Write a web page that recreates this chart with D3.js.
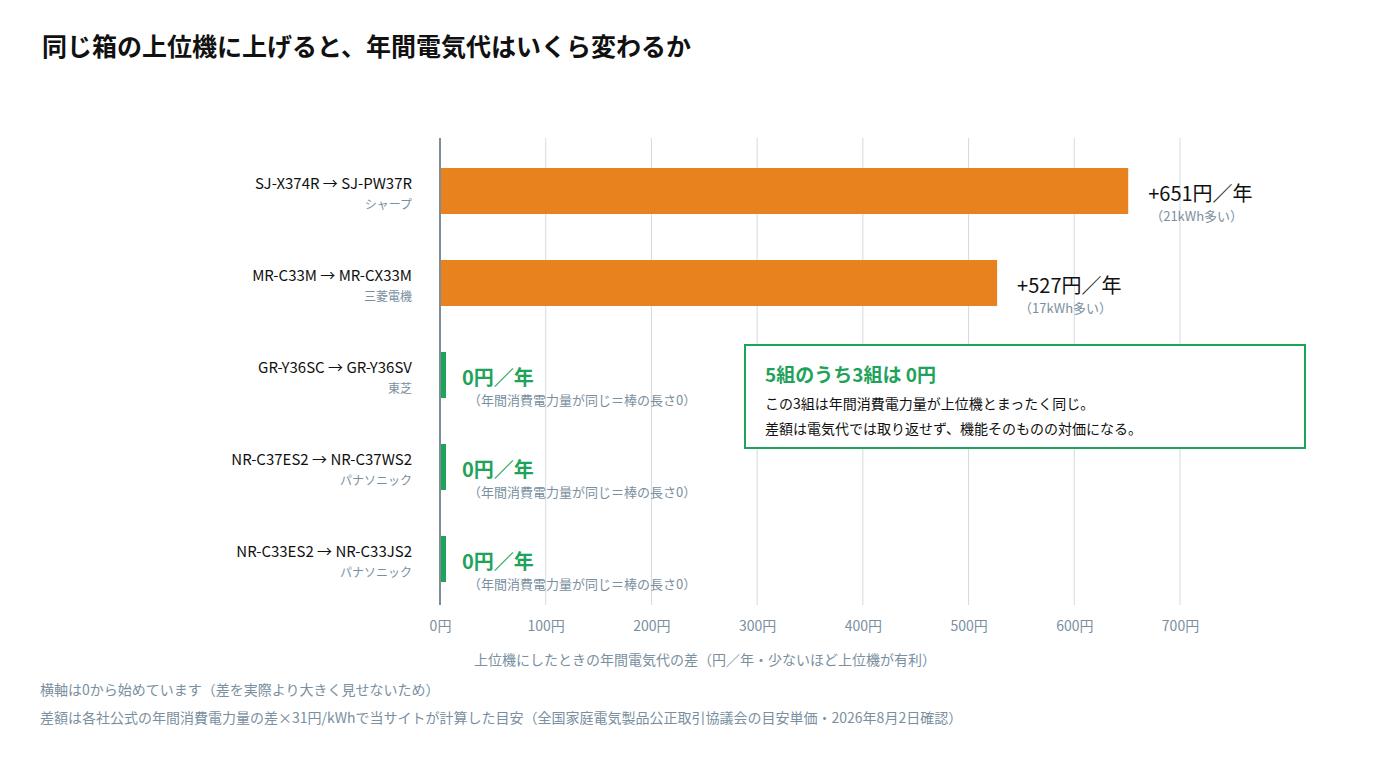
<!DOCTYPE html>
<html><head><meta charset="utf-8">
<script src="https://cdn.jsdelivr.net/npm/d3@7"></script>
<style>body{margin:0;background:#fff;font-family:"Noto Sans CJK JP","Noto Sans",sans-serif;}</style>
</head><body><svg id="c" width="1400" height="760"></svg>
<script>
var models = ["SJ-X374R → SJ-PW37R","MR-C33M → MR-CX33M","GR-Y36SC → GR-Y36SV","NR-C37ES2 → NR-C37WS2","NR-C33ES2 → NR-C33JS2"];
var makers = ["シャープ","三菱電機","東芝","パナソニック","パナソニック"];
var diffs = [651,527,0,0,0];
var kwh = [21,17,0,0,0];
var ticks = [0,100,200,300,400,500,600,700];

var svg = d3.select("#c");
var x = d3.scaleLinear().domain([0,700]).range([440,1180]);
var y = d3.scaleBand().domain(d3.range(5)).range([145,605]).paddingInner(0.5).paddingOuter(0.25);

svg.append("text").attr("x",42).attr("y",56).attr("font-size",25).attr("font-weight","bold").attr("fill","#111")
  .text("同じ箱の上位機に上げると、年間電気代はいくらか変わるか".replace("いくらか","いくら"));

svg.selectAll(".grid").data(ticks.slice(1)).enter().append("line")
  .attr("x1",d=>x(d)).attr("x2",d=>x(d)).attr("y1",138).attr("y2",605)
  .attr("stroke","#d3dbe0").attr("stroke-width",1);

var ax = svg.append("g").attr("transform","translate(0,605)")
  .call(d3.axisBottom(x).tickValues(ticks).tickSize(0).tickPadding(16).tickFormat(d=>d+"円"));
ax.select(".domain").remove();
ax.selectAll("text").attr("font-size",14).attr("fill","#7a8fa0").attr("font-family","'Noto Sans CJK JP'");

svg.selectAll(".bar").data(diffs).enter().append("rect")
  .attr("x",x(0)).attr("y",(d,i)=>y(i)).attr("height",y.bandwidth())
  .attr("width",d=>d>0?x(d)-x(0):6).attr("fill",d=>d>0?"#e8821e":"#1fa35a");

svg.append("line").attr("x1",440).attr("x2",440).attr("y1",138).attr("y2",605).attr("stroke","#7d8d96").attr("stroke-width",2);

var rows = svg.selectAll(".row").data(diffs).enter().append("g");
rows.append("text").attr("x",412).attr("y",(d,i)=>y(i)+y.bandwidth()/2-2).attr("text-anchor","end")
  .attr("font-size",15).attr("fill","#111").text((d,i)=>models[i]);
rows.append("text").attr("x",412).attr("y",(d,i)=>y(i)+y.bandwidth()/2+18).attr("text-anchor","end")
  .attr("font-size",12).attr("fill","#7a8fa0").text((d,i)=>makers[i]);
rows.append("text").attr("x",d=>d>0?x(d)+20:462).attr("y",(d,i)=>y(i)+y.bandwidth()/2+10)
  .attr("font-size",20).attr("font-weight",d=>d>0?"normal":"bold").attr("fill",d=>d>0?"#111":"#1fa35a")
  .text(d=>(d>0?"+":"")+d+"円／年");
rows.append("text").attr("x",d=>d>0?x(d)+22:468).attr("y",(d,i)=>y(i)+y.bandwidth()/2+30)
  .attr("font-size",13).attr("fill","#7a8fa0")
  .text((d,i)=>d>0?"（"+kwh[i]+"kWh多い）":"（年間消費電力量が同じ＝棒の長さ0）");

var box = svg.append("g");
box.append("rect").attr("x",745).attr("y",345).attr("width",560).attr("height",103).attr("fill","#fff").attr("stroke","#1fa35a").attr("stroke-width",2);
box.append("text").attr("x",765).attr("y",382).attr("font-size",19).attr("font-weight","bold").attr("fill","#1fa35a").text("5組のうち3組は 0円");
box.append("text").attr("x",765).attr("y",409).attr("font-size",14).attr("fill","#111").text("この3組は年間消費電力量が上位機とまったく同じ。");
box.append("text").attr("x",765).attr("y",434).attr("font-size",14).attr("fill","#111").text("差額は電気代では取り返せず、機能そのものの対価になる。");

svg.append("text").attr("x",705).attr("y",665).attr("text-anchor","middle").attr("font-size",14).attr("fill","#7a8fa0")
  .text("上位機にしたときの年間電気代の差（円／年・少ないほど上位機が有利）");
svg.append("text").attr("x",40).attr("y",695).attr("font-size",14).attr("fill","#7a8fa0").text("横軸は0から始めています（差を実際より大きく見せないため）");
svg.append("text").attr("x",40).attr("y",723).attr("font-size",14).attr("fill","#7a8fa0").text("差額は各社公式の年間消費電力量の差×31円/kWhで当サイトが計算した目安（全国家庭電気製品公正取引協議会の目安単価・2026年8月2日確認）");
</script></body></html>
